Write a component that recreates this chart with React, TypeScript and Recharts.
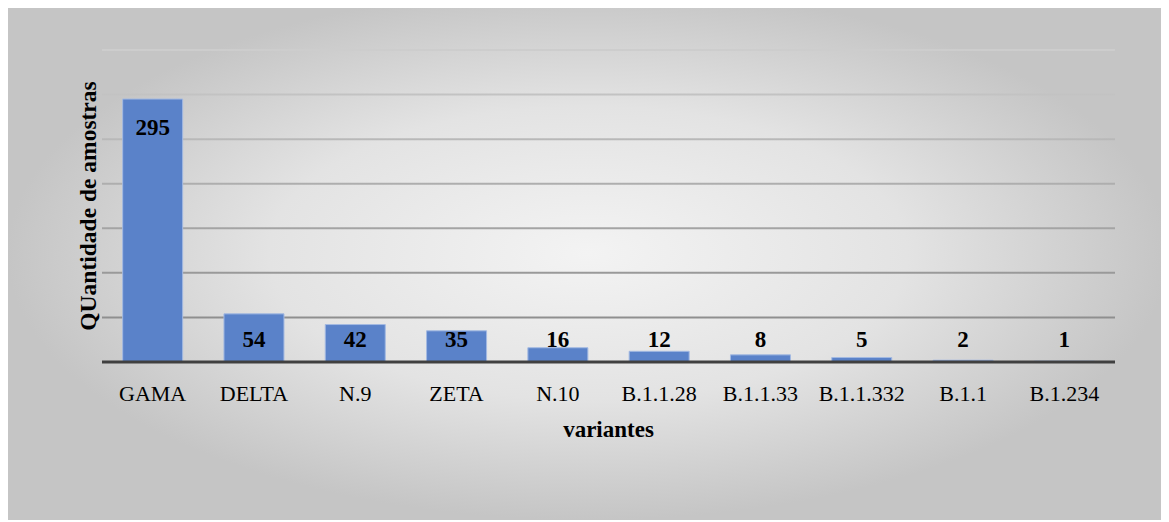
import React from 'react';
import { BarChart, Bar, XAxis, YAxis, CartesianGrid, LabelList, Label } from 'recharts';

// Variant counts
const variantes = ['GAMA', 'DELTA', 'N.9', 'ZETA', 'N.10', 'B.1.1.28', 'B.1.1.33', 'B.1.1.332', 'B.1.1', 'B.1.234'];
const amostras = [295, 54, 42, 35, 16, 12, 8, 5, 2, 1];
const yTicks = [0, 50, 100, 150, 200, 250, 300, 350];

const data = variantes.map((name, i) => ({ name, value: amostras[i] }));

const FONT = '"Liberation Serif", "Times New Roman", serif';

// label sits inside the top of the bar, but never lower than just above the axis
const BarValueLabel = (props: any) => {
  const { x, y, width, height, value } = props;
  const baseline = Math.min(y + 36, y + height - 15);
  return (
    <text
      x={x + width / 2}
      y={baseline}
      textAnchor="middle"
      style={{ fontFamily: FONT, fontSize: 23, fontWeight: 'bold' }}
      fill="#000"
    >
      {value}
    </text>
  );
};

const CategoryTick = (props: any) => {
  const { x, y, payload } = props;
  return (
    <text x={x} y={y} dy={39} textAnchor="middle" style={{ fontFamily: FONT, fontSize: 22 }} fill="#000">
      {payload.value}
    </text>
  );
};

export default function App() {
  return (
    <div
      style={{
        marginLeft: -1,
        marginTop: -2,
        width: 1162,
        height: 514,
        boxSizing: 'border-box',
        borderTop: '1px solid #c0c0c0',
        background:
          'radial-gradient(ellipse farthest-side at 50% 48%, #f3f3f3 0%, #e3e3e3 55%, #c5c5c5 100%)',
      }}
    >
      <BarChart
        width={1162}
        height={513}
        data={data}
        margin={{ top: 43, right: 54, left: 0, bottom: 0 }}
        barCategoryGap="20.4%"
      >
        <defs>
          <linearGradient id="gridShade" gradientUnits="userSpaceOnUse" x1="0" y1="43" x2="0" y2="355">
            <stop offset="0%" stopColor="#cdcdcd" />
            <stop offset="100%" stopColor="#858585" />
          </linearGradient>
        </defs>
        <CartesianGrid
          vertical={false}
          horizontalValues={yTicks}
          stroke="url(#gridShade)"
          strokeWidth={2}
        />
        <YAxis
          width={95}
          domain={[0, 350]}
          ticks={yTicks}
          tick={() => null}
          axisLine={false}
          tickLine={false}
        >
          <Label
            content={(p: any) => {
              const vb = p.viewBox;
              const cx = vb.x + 81;
              const cy = vb.y + vb.height / 2;
              return (
                <text
                  x={cx}
                  y={cy}
                  transform={`rotate(-90 ${cx} ${cy})`}
                  textAnchor="middle"
                  dominantBaseline="central"
                  style={{ fontFamily: FONT, fontSize: 23.5, fontWeight: 'bold' }}
                  fill="#000"
                >
                  QUantidade de amostras
                </text>
              );
            }}
          />
        </YAxis>
        <XAxis
          dataKey="name"
          height={158}
          tickLine={false}
          tickSize={0}
          tickMargin={0}
          axisLine={{ stroke: '#404040', strokeWidth: 3 }}
          tick={<CategoryTick />}
          interval={0}
        >
          <Label
            content={(p: any) => {
              const vb = p.viewBox;
              return (
                <text
                  x={vb.x + vb.width / 2}
                  y={vb.y + 75}
                  textAnchor="middle"
                  style={{ fontFamily: FONT, fontSize: 23, fontWeight: 'bold' }}
                  fill="#000"
                >
                  variantes
                </text>
              );
            }}
          />
        </XAxis>
        <Bar dataKey="value" fill="#5a82c9" stroke="#a3b9e2" strokeWidth={1} isAnimationActive={false}>
          <LabelList dataKey="value" content={<BarValueLabel />} />
        </Bar>
      </BarChart>
    </div>
  );
}
